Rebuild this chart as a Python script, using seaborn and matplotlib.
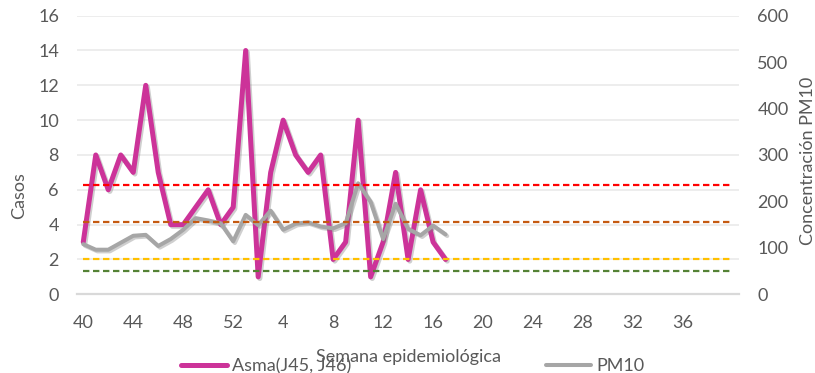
import matplotlib
matplotlib.use("Agg")
import matplotlib.pyplot as plt
import matplotlib.patheffects as pe
from matplotlib.lines import Line2D
import numpy as np
import pandas as pd
import seaborn as sns

# Epidemiological weeks: 40-52 of one year, then 1-40 of the next
weeks = list(range(40, 53)) + list(range(1, 41))

# Weekly asthma cases (J45, J46), weeks 40 .. 17
asma = [3, 8, 6, 8, 7, 12, 7, 4, 4, 5, 6, 4, 5,
        14, 1, 7, 10, 8, 7, 8, 2, 3, 10, 1, 3, 7, 2, 6, 3, 2]

# Weekly PM10 concentration, weeks 40 .. 17
pm10 = [108, 96, 96, 111, 126, 128, 104, 119, 139, 164, 159, 153, 114,
        171, 149, 180, 139, 152, 155, 146, 142, 153, 239, 199, 119, 195, 141, 127, 148, 129]

# PM10 reference levels drawn as dashed lines
umbrales = [235, 155, 75, 50]
colores_umbral = ["#FF0000", "#C55A11", "#FFC000", "#548235"]

sns.set_theme(style="white")
plt.rcParams["font.family"] = ["Lato", "DejaVu Sans"]
plt.rcParams["lines.scale_dashes"] = False

GRIS_TXT = "#595959"
ROSA = "#CC3399"
GRIS = "#A6A6A6"

fig = plt.figure(figsize=(8.15, 3.73), dpi=100)
ax = fig.add_axes([0.0945, 0.211, 0.8125, 0.747])
ax2 = ax.twinx()

pos = np.arange(len(weeks))
df = pd.DataFrame({"pos": pos[:len(asma)], "asma": asma, "pm10": pm10})

sombra = [pe.SimpleLineShadow(offset=(1.2, -1.2), shadow_color="#777777", alpha=0.35),
          pe.Normal()]

sns.lineplot(data=df, x="pos", y="asma", ax=ax, color=ROSA, lw=3.6,
             path_effects=sombra, legend=False)
sns.lineplot(data=df, x="pos", y="pm10", ax=ax2, color=GRIS, lw=2.9,
             path_effects=sombra, legend=False)

for val, col in zip(umbrales, colores_umbral):
    ax2.plot([pos[0], pos[-1]], [val, val], color=col, lw=1.6,
             dashes=(4.6, 2.6))

# Axes ranges and ticks (a label every fourth week, last one at 36)
ax.set_xlim(-0.5, len(weeks) - 0.5)
ax.set_ylim(0, 16)
ax2.set_ylim(0, 600)
ax.set_yticks(range(0, 17, 2))
ax2.set_yticks(range(0, 601, 100))
tick_pos = pos[:-1:4]
ax.set_xticks(tick_pos)
ax.set_xticklabels([str(weeks[i]) for i in tick_pos])

# Horizontal gridlines every 2 cases
for g in range(2, 17, 2):
    ax.axhline(g, color="#E8E8E8", lw=1.1, zorder=0)

for a in (ax, ax2):
    for s in a.spines.values():
        s.set_visible(False)
    a.tick_params(length=0, labelsize=13, labelcolor=GRIS_TXT)
    a.grid(False)
ax.spines["bottom"].set_visible(True)
ax.spines["bottom"].set_color("#D9D9D9")
ax.spines["bottom"].set_linewidth(1.6)
ax.tick_params(axis="y", pad=13)
ax.tick_params(axis="x", pad=15)
ax2.tick_params(axis="y", pad=13)

ax.set_ylabel("Casos", fontsize=13, color=GRIS_TXT)
ax.yaxis.set_label_coords(-0.075, 0.356)
ax2.set_ylabel("Concentración PM10", fontsize=13, color=GRIS_TXT)
ax2.yaxis.set_label_coords(1.092, 0.478)
ax.set_xlabel("Semana epidemiológica", fontsize=13, color=GRIS_TXT)
ax.xaxis.set_label_coords(0.5, -0.195)

handles = [Line2D([0], [0], color=ROSA, lw=3.6),
           Line2D([0], [0], color=GRIS, lw=2.9)]
leg = fig.legend(handles, ["Asma(J45, J46)", "PM10"], loc="center",
                 bbox_to_anchor=(0.507, 0.018), ncol=2, frameon=False,
                 fontsize=13, handlelength=2.5, handletextpad=0.3,
                 columnspacing=10.8, labelcolor=GRIS_TXT)

fig.savefig("out.png", dpi=100, facecolor="white")
